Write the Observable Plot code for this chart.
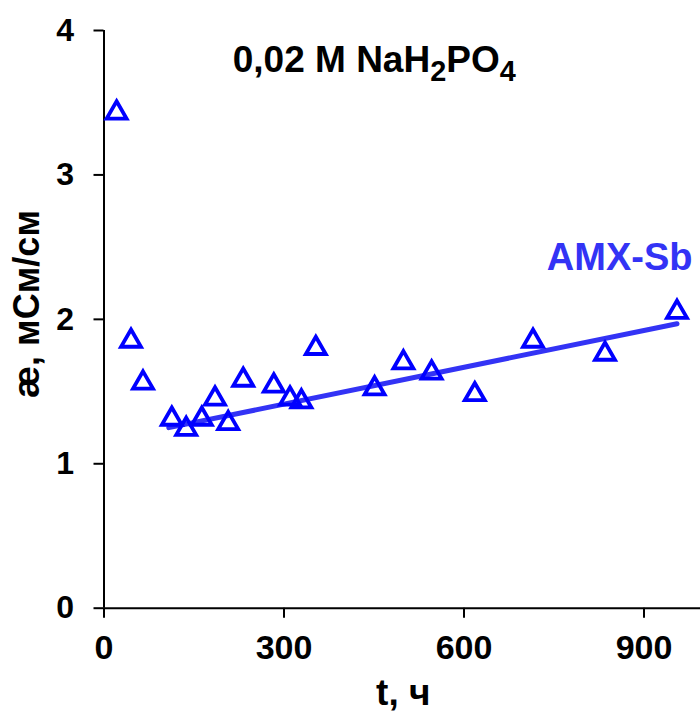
<!DOCTYPE html>
<html>
<head>
<meta charset="utf-8">
<script src="https://cdn.jsdelivr.net/npm/d3@7"></script>
<script src="https://cdn.jsdelivr.net/npm/@observablehq/plot@0.6"></script>
<style>
  html, body { margin: 0; padding: 0; background: #fff; }
  #chart svg { display: block; }
</style>
</head>
<body>
<div id="chart"></div>
<script>
// ---- data ----
const times = [21, 45, 65, 113, 137, 163, 185, 207, 232, 283, 310, 329, 353, 451, 499, 546, 618, 715, 835, 955];
const conductivity = [3.43, 1.85, 1.56, 1.31, 1.24, 1.31, 1.45, 1.28, 1.58, 1.54, 1.45, 1.43, 1.80, 1.52, 1.70, 1.63, 1.48, 1.85, 1.76, 2.05];
const fitTimes = [108, 955];
const fitValues = [1.25, 1.97];
const xTicks = [0, 300, 600, 900];
const yTicks = [0, 1, 2, 3, 4];
const titleText = "0,02 M NaH2PO4";
const seriesLabel = "AMX-Sb";
const xLabel = "t, ч";
const yLabel = "æ, мСм/см";

const points = times.map((t, i) => ({t, v: conductivity[i]}));
const fit = fitTimes.map((t, i) => ({t, v: fitValues[i]}));

const font = "'Liberation Sans', Arial, Helvetica, sans-serif";
const markerColor = "#0000ff";
const lineColor = "#3333f5";

const chart = Plot.plot({
  width: 700,
  height: 713,
  marginLeft: 103.5,
  marginRight: 0,
  marginTop: 30,
  marginBottom: 105.3,
  style: {fontFamily: font, fontWeight: "bold", background: "white", color: "black", overflow: "hidden"},
  x: {domain: [0, 1000], range: [103.5, 703.5]},
  y: {domain: [0, 4], range: [607.7, 30]},
  marks: [
    Plot.axisY(yTicks, {tickSize: 10, tickPadding: 20, fontSize: 32, strokeWidth: 2, label: null, color: "black", tickFormat: d => String(d)}),
    Plot.axisX(xTicks, {tickSize: 10, tickPadding: 16.5, fontSize: 34, strokeWidth: 2, label: null, color: "black", tickFormat: d => String(d)}),
    Plot.ruleX([0], {stroke: "black", strokeWidth: 2}),
    Plot.ruleY([0], {stroke: "black", strokeWidth: 2}),
    Plot.line(fit, {x: "t", y: "v", stroke: lineColor, strokeWidth: 5}),
    Plot.dot(points, {x: "t", y: "v", symbol: "triangle", r: 7.4, stroke: markerColor, strokeWidth: 3.8, fill: "none"}),
    Plot.text([seriesLabel], {text: d => d, frameAnchor: "top-right", textAnchor: "end", lineAnchor: "bottom",
      dx: -8, dy: 239.3, fontSize: 38, fill: lineColor}),
    Plot.text([titleText], {text: d => d, frameAnchor: "top", textAnchor: "middle", lineAnchor: "bottom",
      dx: -28, dy: 41.7, fontSize: 37, fill: "black"}),
    Plot.text([xLabel], {text: d => d, frameAnchor: "bottom", textAnchor: "middle", lineAnchor: "bottom",
      dx: 1, dy: 97, fontSize: 37, fill: "black"}),
    Plot.text([yLabel], {text: d => d, frameAnchor: "left", textAnchor: "middle", lineAnchor: "bottom", rotate: -90,
      dx: -65.5, dy: -15.4, fontSize: 36, fill: "black"})
  ]
});

document.getElementById("chart").appendChild(chart);

// subscripts in the chemical formula
const ns = "http://www.w3.org/2000/svg";
chart.querySelectorAll("text").forEach(el => {
  if (el.textContent === titleText) {
    el.textContent = "";
    const parts = [["0,02 M NaH", 0, null], ["2", 9, "0.78em"], ["PO", -9, null], ["4", 9, "0.78em"]];
    parts.forEach(([s, dy, fs]) => {
      const ts = document.createElementNS(ns, "tspan");
      ts.textContent = s;
      if (dy) ts.setAttribute("dy", dy);
      if (fs) ts.setAttribute("font-size", fs);
      el.appendChild(ts);
    });
  }
});
</script>
</body>
</html>
